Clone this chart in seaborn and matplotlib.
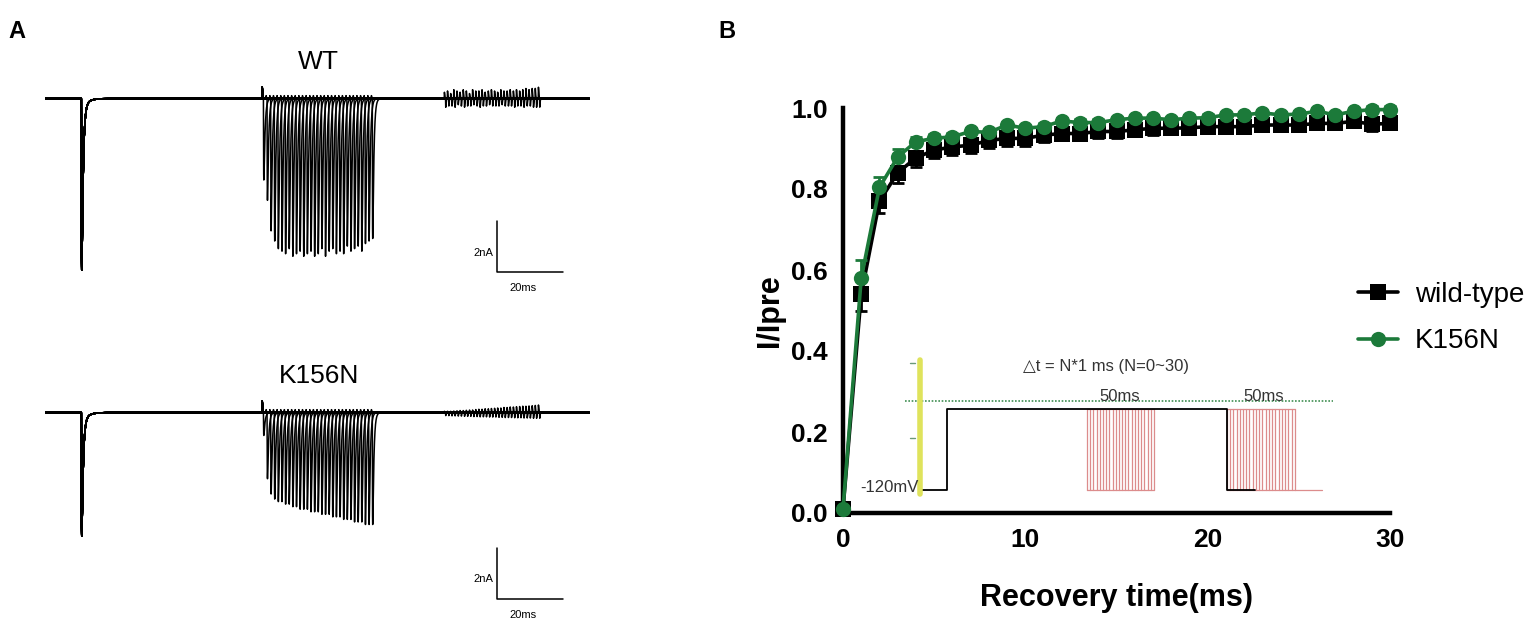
import numpy as np
import pandas as pd
import seaborn as sns
import matplotlib.pyplot as plt

# ---- panel B: recovery from inactivation (mean +/- SEM) ----
recovery_ms = list(range(31))
wt_mean = [0.01, 0.54, 0.77, 0.84, 0.877, 0.896, 0.904, 0.908, 0.92, 0.925, 0.925,
           0.933, 0.937, 0.937, 0.942, 0.942, 0.946, 0.95, 0.95, 0.951, 0.954,
           0.954, 0.954, 0.958, 0.958, 0.958, 0.962, 0.962, 0.967, 0.96, 0.962]
wt_sem = [0.005, 0.04, 0.03, 0.025, 0.022, 0.02, 0.02, 0.018, 0.018, 0.018, 0.018,
          0.017, 0.017, 0.016, 0.017, 0.016, 0.016, 0.016, 0.015, 0.016, 0.015,
          0.016, 0.015, 0.015, 0.016, 0.015, 0.015, 0.015, 0.015, 0.016, 0.015]
k156n_mean = [0.01, 0.58, 0.804, 0.879, 0.917, 0.925, 0.929, 0.942, 0.94, 0.958, 0.95,
              0.954, 0.968, 0.964, 0.964, 0.971, 0.975, 0.975, 0.971, 0.975, 0.976,
              0.983, 0.983, 0.988, 0.983, 0.985, 0.992, 0.983, 0.992, 0.996, 0.996]
k156n_sem = [0.005, 0.045, 0.025, 0.02, 0.012, 0.01, 0.009, 0.009, 0.008, 0.008, 0.008,
             0.008, 0.008, 0.008, 0.008, 0.008, 0.008, 0.008, 0.008, 0.008, 0.008,
             0.008, 0.008, 0.008, 0.008, 0.008, 0.008, 0.008, 0.008, 0.008, 0.008]
groups = ['wild-type', 'K156N']

# ---- panel A: example current traces (nA) ----
sweep_n = list(range(31))                      # N = 0..30 sweeps, dt = N*1 ms
wt_first_peak = 6.6
k156n_first_peak = 4.7
wt_train_amp = [3.2, 4.0, 5.2, 5.6, 5.9, 6.0, 6.1, 5.9, 6.2, 6.1, 6.0, 6.2, 6.1, 6.0, 6.2, 6.1,
                5.9, 6.2, 6.0, 5.9, 6.1, 6.0, 6.1, 5.8, 6.0, 5.9, 5.8, 6.0, 5.7, 5.6, 5.5]
k156n_train_amp = [0.9, 2.6, 3.2, 3.4, 3.5, 3.5, 3.6, 3.6, 3.7, 3.7, 3.8, 3.8, 3.8, 3.9, 3.9, 3.9,
                   4.0, 4.0, 4.0, 4.1, 4.1, 4.1, 4.2, 4.2, 4.2, 4.3, 4.3, 4.3, 4.4, 4.4, 4.4]
wt_tail_up = [0.25, 0.3, 0.2, 0.35, 0.3, 0.25, 0.35, 0.3, 0.2, 0.35, 0.3, 0.3, 0.35, 0.25, 0.3, 0.35,
              0.3, 0.25, 0.35, 0.3, 0.3, 0.35, 0.3, 0.35, 0.3, 0.35, 0.4, 0.35, 0.4, 0.4, 0.45]
wt_tail_down = [0.35, 0.3, 0.3, 0.35, 0.25, 0.3, 0.35, 0.3, 0.3, 0.25, 0.3, 0.35, 0.3, 0.3, 0.25, 0.3,
                0.3, 0.3, 0.25, 0.3, 0.3, 0.3, 0.35, 0.3, 0.3, 0.35, 0.3, 0.3, 0.35, 0.35, 0.35]
k156n_tail_up = [0.05, 0.05, 0.05, 0.06, 0.07, 0.08, 0.08, 0.09, 0.1, 0.1, 0.12, 0.13, 0.13, 0.15, 0.15, 0.16,
                 0.17, 0.18, 0.18, 0.2, 0.2, 0.22, 0.22, 0.23, 0.24, 0.25, 0.25, 0.26, 0.27, 0.28, 0.3]
k156n_tail_down = [0.12, 0.12, 0.13, 0.13, 0.14, 0.14, 0.15, 0.15, 0.15, 0.16, 0.16, 0.17, 0.17, 0.17, 0.18, 0.18,
                   0.18, 0.19, 0.19, 0.2, 0.2, 0.2, 0.21, 0.21, 0.21, 0.22, 0.22, 0.22, 0.23, 0.23, 0.23]

W, H = 1537, 621
sns.set_style('white')
plt.rcParams['font.family'] = ['Liberation Sans', 'DejaVu Sans']
plt.rcParams['text.color'] = 'black'
plt.rcParams['axes.labelcolor'] = 'black'
plt.rcParams['xtick.color'] = 'black'
plt.rcParams['ytick.color'] = 'black'
fig = plt.figure(figsize=(W / 100, H / 100), dpi=100)


def box(x0, y0, x1, y1):
    # pixel box (top-left origin) -> figure fraction rect
    return [x0 / W, 1 - y1 / H, (x1 - x0) / W, (y1 - y0) / H]


def pulse(t, t0, amp, tau_r, tau_d):
    s = t - t0
    out = np.zeros_like(t)
    m = s > 0
    shape = np.exp(-s[m] / tau_d) - np.exp(-s[m] / tau_r)
    tp = np.log(tau_d / tau_r) * tau_d * tau_r / (tau_d - tau_r)
    peak = np.exp(-tp / tau_d) - np.exp(-tp / tau_r)
    out[m] = amp * shape / peak
    return out


def sweeps_frame(first_peak, train_amp, tail_up, tail_down):
    # overlay of the 31 sweeps; every sweep shares the conditioning spike
    t = np.arange(0, 165, 0.02)
    frames = []
    for n, a, u, d in zip(sweep_n, train_amp, tail_up, tail_down):
        cur = -pulse(t, 11.0, first_peak, 0.07, 0.4) - pulse(t, 11.0, 0.25, 0.3, 1.5)
        cur += pulse(t, 65.8, 0.45, 0.02, 0.06)
        t0 = 66.2 + n * 1.1
        cur += pulse(t, t0 - 0.3, 0.12, 0.02, 0.05)
        cur -= pulse(t, t0, a, 0.06, 0.35)
        t1 = 121.0 + n * 0.95
        cur += pulse(t, t1, u, 0.03, 0.1)
        cur -= pulse(t, t1 + 0.4, d, 0.03, 0.1)
        frames.append(pd.DataFrame({'t': t, 'i': cur, 'sweep': n}))
    return pd.concat(frames, ignore_index=True)


def trace_panel(rect, title, first_peak, train_amp, tail_up, tail_down, bar_top, bar_bot):
    ax = fig.add_axes(rect)
    d = sweeps_frame(first_peak, train_amp, tail_up, tail_down)
    sns.lineplot(data=d, x='t', y='i', units='sweep', estimator=None, sort=False,
                 color='black', lw=1.1, ax=ax)
    ax.set_xlim(0, 166.7)
    ax.set_ylim(-8.3, 2.3)
    ax.axis('off')
    ax.text(83, 1.45, title, ha='center', va='center', fontsize=19)
    # scale bar 2 nA / 20 ms
    ax.plot([137, 137, 157], [bar_top, bar_bot, bar_bot], color='black', lw=1.1)
    ax.text(135.8, (bar_top + bar_bot) / 2 - 0.25, '2nA', ha='right', va='center', fontsize=8)
    ax.text(145, bar_bot - 0.65, '20ms', ha='center', va='center', fontsize=8)
    return ax


trace_panel(box(45, 40, 595, 310), 'WT', wt_first_peak, wt_train_amp,
            wt_tail_up, wt_tail_down, -4.8, -6.8)
trace_panel(box(45, 354, 595, 624), 'K156N', k156n_first_peak, k156n_train_amp,
            k156n_tail_up, k156n_tail_down, -5.3, -7.3)

fig.text(17 / W, 1 - 32 / H, 'A', fontsize=17, fontweight='bold', ha='center', va='center')
fig.text(727 / W, 1 - 32 / H, 'B', fontsize=17, fontweight='bold', ha='center', va='center')

# ---- panel B ----
axb = fig.add_axes(box(843, 108, 1390, 513))
df = pd.DataFrame({
    'time': recovery_ms * 2,
    'ratio': wt_mean + k156n_mean,
    'group': [groups[0]] * len(recovery_ms) + [groups[1]] * len(recovery_ms),
})
colors = {'wild-type': 'black', 'K156N': '#1c7a3a'}

axb.errorbar(recovery_ms, wt_mean, yerr=[wt_sem, [0] * len(wt_sem)], fmt='none',
             ecolor='black', elinewidth=2, capsize=4, capthick=2, clip_on=False, zorder=2)
sns.lineplot(data=df, x='time', y='ratio', hue='group', style='group',
             markers={'wild-type': 's', 'K156N': 'o'}, dashes=False, palette=colors,
             markersize=11, markeredgewidth=0, lw=2.6, ax=axb, clip_on=False, zorder=3)
axb.errorbar(recovery_ms, k156n_mean, yerr=[[0] * len(k156n_sem), k156n_sem], fmt='none',
             ecolor=colors['K156N'], elinewidth=2, capsize=4, capthick=2, clip_on=False, zorder=4)

axb.set_xlim(0, 30)
axb.set_ylim(0, 1.0)
axb.set_xticks([0, 10, 20, 30])
axb.set_yticks([0.0, 0.2, 0.4, 0.6, 0.8, 1.0])
axb.set_yticklabels(['0.0', '0.2', '0.4', '0.6', '0.8', '1.0'])
for s in ['top', 'right']:
    axb.spines[s].set_visible(False)
for s in ['left', 'bottom']:
    axb.spines[s].set_linewidth(3.2)
    axb.spines[s].set_color('black')
axb.tick_params(direction='out', length=6, width=3, labelsize=19, pad=5)
for lab in axb.get_xticklabels() + axb.get_yticklabels():
    lab.set_fontweight('bold')
axb.set_xlabel('Recovery time(ms)', fontsize=22, fontweight='bold', labelpad=22)
axb.set_ylabel('I/Ipre', fontsize=22, fontweight='bold', labelpad=4)

leg = axb.legend(loc='center left', bbox_to_anchor=(1333 / W, 1 - 318 / H),
                 bbox_transform=fig.transFigure, frameon=False, fontsize=20,
                 handlelength=1.45, handletextpad=0.6, labelspacing=0.75,
                 markerscale=1.0)

# voltage protocol schematic inside panel B
red = '#dc8c8c'
for x0, x1 in [(13.38, 17.06), (21.05, 24.78)]:
    for x in np.linspace(x0, x1, 22):
        axb.plot([x, x], [0.056, 0.258], color=red, lw=0.9, zorder=1)
    axb.plot([x0, x1], [0.258, 0.258], color=red, lw=0.9, zorder=1)
    axb.plot([x0, x1], [0.056, 0.056], color=red, lw=0.9, zorder=1)
axb.plot([24.78, 26.27], [0.056, 0.056], color=red, lw=0.9, zorder=1)
axb.plot([4.34, 5.69, 5.69, 21.05, 21.05, 22.6], [0.056, 0.056, 0.258, 0.258, 0.056, 0.056],
         color='black', lw=1.3, zorder=1)
axb.plot([3.41, 26.9], [0.2775, 0.2775], color='#3f8f52', lw=1.2, ls=(0, (1, 1)), zorder=1)
axb.plot([4.24, 4.24], [0.046, 0.379], color='#dfe35c', lw=4, zorder=1)
for y in [0.371, 0.186]:
    axb.plot([3.7, 3.95], [y, y], color='#6a9a78', lw=1, zorder=1)
axb.text(14.4, 0.3625, '\u25b3t = N*1 ms (N=0~30)', ha='center', va='center', fontsize=12,
         color='#333333', family=['Liberation Sans', 'DejaVu Sans'])
axb.text(15.2, 0.287, '50ms', ha='center', va='center', fontsize=12, color='#333333')
axb.text(23.06, 0.287, '50ms', ha='center', va='center', fontsize=12, color='#333333')
axb.text(4.14, 0.0625, '-120mV', ha='right', va='center', fontsize=12, color='#333333')

fig.savefig('out.png', dpi=100)
